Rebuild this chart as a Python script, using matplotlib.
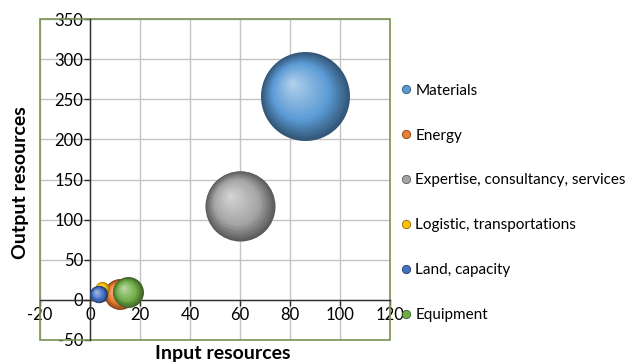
import matplotlib
import matplotlib.pyplot as plt
import numpy as np
from matplotlib.colors import to_rgb
from matplotlib.lines import Line2D
from matplotlib.patches import Rectangle
from matplotlib.transforms import offset_copy

matplotlib.use("Agg")

plt.rcParams['font.family'] = ['Lato', 'DejaVu Sans']
plt.rcParams['axes.unicode_minus'] = False

# bubble data, in series order
categories = ['Materials', 'Energy', 'Expertise, consultancy, services',
              'Logistic, transportations', 'Land, capacity', 'Equipment']
input_res = [86, 11.8, 60, 4.8, 3.4, 15.1]
output_res = [254, 7, 117.5, 14, 7, 9.5]
bubble_size = [100, 12, 62, 2.5, 3.8, 12]

colors = ['#5b9bd5', '#ed7d31', '#a5a5a5', '#ffc000', '#4472c4', '#70ad47']

x_ticks = list(range(-20, 121, 20))
y_ticks = list(range(-50, 351, 50))

fig = plt.figure(figsize=(6.3, 3.62), dpi=100)
ax = fig.add_axes([40 / 630, 1 - 340 / 362, 350 / 630, 321 / 362])
ax.set_xlim(-20, 120)
ax.set_ylim(-50, 350)
ax.set_xticks(x_ticks)
ax.set_yticks(y_ticks)

ax.grid(True, color='#c4c4c4', lw=1)
ax.set_axisbelow(True)

for side in ('top', 'right'):
    ax.spines[side].set_visible(False)
for side in ('left', 'bottom'):
    ax.spines[side].set_position(('data', 0))
    ax.spines[side].set_color('#303030')
    ax.spines[side].set_linewidth(1)
ax.tick_params(direction='out', length=4, width=1, color='#303030',
               labelsize=12, pad=1)
ax.add_patch(Rectangle((0, 0), 1, 1, transform=ax.transAxes, fill=False,
                       edgecolor='#7a9350', lw=1.2, clip_on=False, zorder=1))

# largest bubble radius in points
r_max = 44.5 * 0.72


def shade(base, t):
    # radial ramp: dark rim -> base -> light highlight
    base = np.array(to_rgb(base))
    dark = base * 0.55
    light = base + (1 - base) * 0.55
    if t < 0.35:
        return dark + (base - dark) * (t / 0.35)
    return base + (light - base) * ((t - 0.35) / 0.65)


n_layers = 40
for x, y, v, c in zip(input_res, output_res, bubble_size, colors):
    r = r_max * np.sqrt(v / max(bubble_size))
    hx, hy = -0.3 * r, 0.3 * r
    for k in range(n_layers):
        t = k / n_layers
        rr = r * (1 - t)
        tr = offset_copy(ax.transData, fig=fig, x=t * hx, y=t * hy, units='points')
        ax.scatter([x], [y], s=(2 * rr) ** 2, color=shade(c, t), lw=0,
                   transform=tr, zorder=3, clip_on=False)

ax.set_xlabel('Input resources', fontsize=14, fontweight='bold')
ax.set_ylabel('Output resources', fontsize=14, fontweight='bold')
ax.xaxis.set_label_coords(0.523, -0.015)
ax.yaxis.set_label_coords(-0.03, 0.49)

handles = [Line2D([], [], ls='', marker='o', ms=6, color=c,
                  markeredgecolor=shade(c, 0), markeredgewidth=0.6)
           for c in colors]
fig.legend(handles, categories, loc='upper left', bbox_to_anchor=(394 / 630, 1 - 76 / 362),
           frameon=False, fontsize=11, labelspacing=2.02, handlelength=0.6,
           handletextpad=0.3, borderpad=0)

fig.savefig('out.png', dpi=100)
